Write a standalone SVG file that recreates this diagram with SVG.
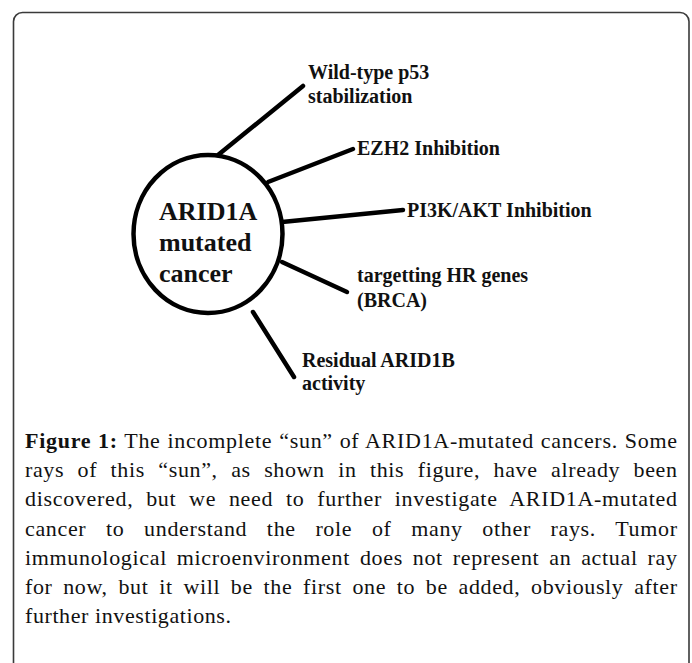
<svg xmlns="http://www.w3.org/2000/svg" width="692" height="663" viewBox="0 0 692 663">
<style>
.frame{fill:#fff;stroke:#3a3a3a;stroke-width:1.6}
.ray{stroke:#000;stroke-width:4.5;stroke-linecap:round;fill:none}
.sun{fill:#fff;stroke:#000;stroke-width:4.5}
.lbl{font-family:"Liberation Serif","Times New Roman",serif;font-weight:bold;font-size:20px;fill:#111}
.ctr{font-family:"Liberation Serif","Times New Roman",serif;font-weight:bold;font-size:26px;fill:#111}
.cap{font-family:"Liberation Serif","Times New Roman",serif;font-size:22px;fill:#111}
.capb{font-weight:bold}
</style>
<rect class="frame" x="13.5" y="12.5" width="675.5" height="700" rx="9"/>
<g id="connectors">
<line class="ray" x1="218" y1="155" x2="303" y2="86"/>
<line class="ray" x1="268" y1="182" x2="353" y2="149"/>
<line class="ray" x1="282" y1="222" x2="403" y2="210"/>
<line class="ray" x1="282" y1="262" x2="347" y2="292"/>
<line class="ray" x1="253" y1="312" x2="294" y2="377"/>
</g>
<g id="center">
<ellipse class="sun" cx="208" cy="234" rx="74.5" ry="79"/>
<text class="ctr" x="159" y="220">ARID1A</text>
<text class="ctr" x="159" y="251">mutated</text>
<text class="ctr" x="159" y="282">cancer</text>
</g>
<g id="p53">
<text class="lbl" x="308" y="79">Wild-type p53</text>
<text class="lbl" x="308" y="103">stabilization</text>
</g>
<g id="ezh2">
<text class="lbl" x="357" y="155">EZH2 Inhibition</text>
</g>
<g id="pi3k">
<text class="lbl" x="407" y="217">PI3K/AKT Inhibition</text>
</g>
<g id="hr">
<text class="lbl" x="357" y="282">targetting HR genes</text>
<text class="lbl" x="357" y="307">(BRCA)</text>
</g>
<g id="arid1b">
<text class="lbl" x="302" y="367">Residual ARID1B</text>
<text class="lbl" x="302" y="390">activity</text>
</g>
<g id="caption">
<text class="cap" x="25" y="448" textLength="652" lengthAdjust="spacing" word-spacing="0.6"><tspan class="capb">Figure 1:</tspan> The incomplete “sun” of ARID1A-mutated cancers. Some</text>
<text class="cap" x="25" y="477" textLength="652" lengthAdjust="spacing" word-spacing="7.3">rays of this “sun”, as shown in this figure, have already been</text>
<text class="cap" x="25" y="506" textLength="652" lengthAdjust="spacing" word-spacing="6.6">discovered, but we need to further investigate ARID1A-mutated</text>
<text class="cap" x="25" y="536" textLength="652" lengthAdjust="spacing" word-spacing="13.5">cancer to understand the role of many other rays. Tumor</text>
<text class="cap" x="25" y="565" textLength="652" lengthAdjust="spacing" word-spacing="3.7">immunological microenvironment does not represent an actual ray</text>
<text class="cap" x="25" y="594" textLength="652" lengthAdjust="spacing" word-spacing="4.6">for now, but it will be the first one to be added, obviously after</text>
<text class="cap" x="25" y="623" textLength="206" lengthAdjust="spacing">further investigations.</text>
</g>
</svg>
